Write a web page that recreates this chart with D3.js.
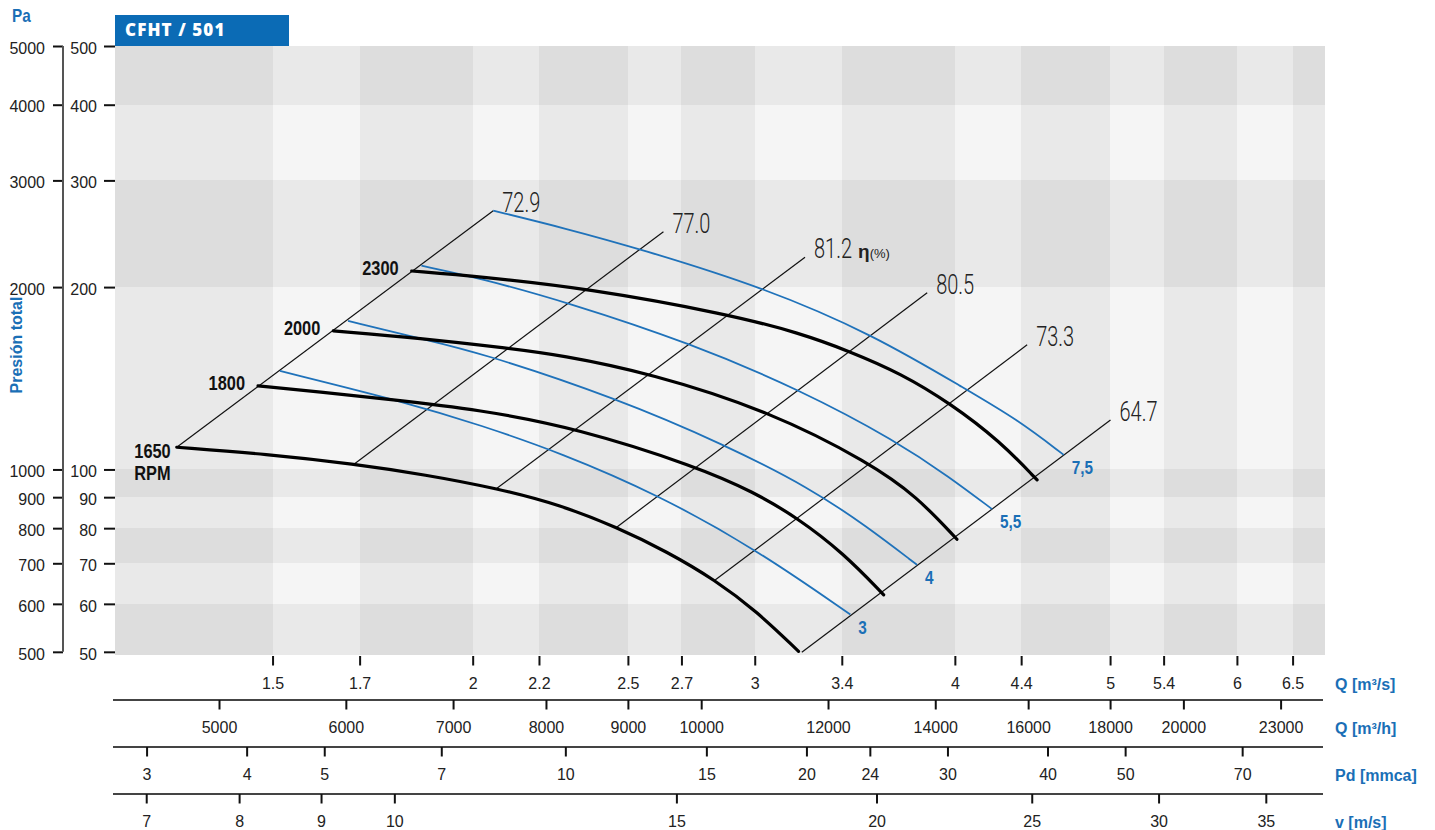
<!DOCTYPE html>
<html>
<head>
<meta charset="utf-8">
<script src="https://cdn.jsdelivr.net/npm/d3@7"></script>
<style>
  body { margin: 0; background: #ffffff; }
  svg text { font-family: "Liberation Sans", Arial, sans-serif; }
</style>
</head>
<body>
<svg id="chart" width="1435" height="830"></svg>
<script>
// ---- Fan model ----
const modelName = "CFHT / 501";

// ---- Axis ticks ----
const pressureTicks = [50, 60, 70, 80, 90, 100, 200, 300, 400, 500];          // mmca (x10 = Pa)
const flowTicks = [1.5, 1.7, 2, 2.2, 2.5, 2.7, 3, 3.4, 4, 4.4, 5, 5.4, 6, 6.5]; // m3/s
const flowHourTicks = [5000, 6000, 7000, 8000, 9000, 10000, 12000, 14000, 16000, 18000, 20000, 23000]; // m3/h
const dynPressureTicks = [3, 4, 5, 7, 10, 15, 20, 24, 30, 40, 50, 70];       // mmca
const velocityTicks = [7, 8, 9, 10, 15, 20, 25, 30, 35];                     // m/s

// ---- Speed curves: [Q m3/s, total pressure mmca] ----
const speeds = [1650, 1800, 2000, 2300];
const curve1650 = [[1.307, 108.8], [1.487, 106.0], [1.687, 102.1], [1.869, 98.0], [2.070, 93.1],
                   [2.268, 87.4], [2.460, 80.3], [2.644, 73.2], [2.834, 65.7], [3.009, 58.3], [3.195, 50.1]];
const curve1800 = [[1.469, 137.4], [1.606, 134.3], [1.767, 130.7], [2.021, 125.5], [2.323, 117.0],
                   [2.760, 101.1], [2.995, 91.8], [3.188, 83.3], [3.409, 72.7], [3.611, 62.1]];
const curve2000 = [[1.637, 169.3], [1.854, 164.7], [2.105, 158.5], [2.268, 154.5], [2.581, 144.2],
                   [3.067, 124.7], [3.542, 102.4], [3.788, 90.2], [4.012, 76.7]];
const curve2300 = [[1.832, 212.6], [2.021, 208.1], [2.357, 199.1], [2.889, 180.4], [3.204, 167.8],
                   [3.442, 156.5], [3.698, 144.2], [3.974, 128.6], [4.270, 111.2], [4.502, 96.1]];
const speedCurves = [curve1650, curve1800, curve2000, curve2300];

// ---- Motor power curves (kW): [Q m3/s, total pressure mmca] ----
const motorPowers = ["3", "4", "5,5", "7,5"];
const power3  = [[1.516, 145.4], [1.827, 128.6], [2.021, 118.4], [2.268, 106.6], [2.612, 90.8],
                 [3.009, 73.7], [3.442, 57.6]];
const power4  = [[1.672, 175.9], [1.854, 164.5], [2.021, 156.0], [2.460, 131.1], [2.875, 109.8],
                 [3.250, 93.1], [3.525, 80.5], [3.788, 69.6]];
const power55 = [[1.858, 216.9], [2.021, 206.9], [2.295, 188.5], [2.734, 161.6], [3.204, 135.3],
                 [3.681, 111.2], [3.974, 96.9], [4.220, 86.0]];
const power75 = [[2.060, 267.4], [2.284, 250.1], [2.544, 231.2], [3.038, 199.8], [3.559, 166.8],
                 [4.070, 135.3], [4.374, 121.0], [4.678, 105.7]];
const powerCurves = [power3, power4, power55, power75];

// ---- Iso-efficiency lines (%): lower and upper ends [Q m3/s, mmca] ----
const efficiencies = ["72.9", "77.0", "81.2", "80.5", "73.3", "64.7"];
const efficiencyLow  = [[1.307, 108.8], [1.687, 102.1], [2.070, 93.0], [2.460, 80.3], [2.834, 65.7], [3.210, 49.9]];
const efficiencyHigh = [[2.060, 267.4], [2.631, 246.9], [3.225, 224.0], [3.844, 195.8], [4.438, 160.6], [5.003, 120.7]];
const efficiencyPeak = "81.2";

// ---- Conversions for the secondary scales ----
const AIR_DENSITY = 1.2;    // kg/m3
const GRAVITY = 9.81;       // mmca -> Pa
const OUTLET_AREA = 0.1787; // m2
const qFromHour = h => h / 3600;
const qFromVelocity = v => v * OUTLET_AREA;
const qFromDynamic = pd => Math.sqrt(2 * pd * GRAVITY / AIR_DENSITY) * OUTLET_AREA;
const velocityFromQ = q => q / OUTLET_AREA;
const dynamicFromQ = q => Math.pow(q / OUTLET_AREA, 2) * AIR_DENSITY / (2 * GRAVITY);

// ---- Layout ----
const BLUE = "#1a6fb6";
const CURVE_BLUE = "#1f72ba";
const plot = { left: 115, right: 1325, top: 46, bottom: 655 };
const rowLines = [700, 747, 794];
const svg = d3.select("#chart");

const x = d3.scaleLog().domain([1.196, 6.81]).range([plot.left, plot.right]);
const y = d3.scaleLog().domain([49.4, 500]).range([plot.bottom, plot.top]);

// ---- Checkerboard background: bands between consecutive ticks ----
const colEdges = [x.domain()[0], ...flowTicks, x.domain()[1]];
const rowEdges = [y.domain()[0], ...pressureTicks.filter(v => v > 50)];
const cells = [];
for (let c = 0; c < colEdges.length - 1; c++) {
  for (let r = 0; r < rowEdges.length - 1; r++) {
    cells.push({ q0: colEdges[c], q1: colEdges[c + 1], p0: rowEdges[r], p1: rowEdges[r + 1],
                 shade: (c % 2 === 0 ? 1 : 0) + (r % 2 === 0 ? 1 : 0) });
  }
}
svg.append("g").attr("shape-rendering", "crispEdges")
  .selectAll("rect").data(cells).join("rect")
  .attr("x", d => x(d.q0)).attr("width", d => x(d.q1) - x(d.q0))
  .attr("y", d => y(d.p1)).attr("height", d => y(d.p0) - y(d.p1))
  .attr("fill", d => { const v = 245 - 12 * d.shade; return d3.rgb(v, v, v); });

// ---- Model badge ----
svg.append("rect").attr("x", plot.left).attr("y", 15).attr("width", 174).attr("height", plot.top - 15)
  .attr("fill", "#0b6bb5");
svg.append("text").attr("x", plot.left + 10).attr("y", 36)
  .style("font-family", "'Open Sans', 'Noto Sans', sans-serif").style("font-weight", 800)
  .style("font-size", "17px").style("letter-spacing", "1.1px").attr("fill", "#ffffff").text(modelName);

// ---- Curves ----
const line = d3.line().x(d => x(d[0])).y(d => y(d[1])).curve(d3.curveBasis);

svg.append("g").selectAll("line").data(efficiencies).join("line")
  .attr("x1", (d, i) => x(efficiencyLow[i][0])).attr("y1", (d, i) => y(efficiencyLow[i][1]))
  .attr("x2", (d, i) => x(efficiencyHigh[i][0])).attr("y2", (d, i) => y(efficiencyHigh[i][1]))
  .attr("stroke", "#111").attr("stroke-width", 1.2);

svg.append("g").selectAll("path").data(powerCurves).join("path")
  .attr("d", line).attr("fill", "none").attr("stroke", CURVE_BLUE).attr("stroke-width", 1.8);

svg.append("g").selectAll("path").data(speedCurves).join("path")
  .attr("d", line).attr("fill", "none").attr("stroke", "#000").attr("stroke-width", 3.2)
  .attr("stroke-linecap", "round");

// ---- Efficiency labels ----
const effLabels = svg.append("g");
efficiencies.forEach((eta, i) => {
  const [q, p] = efficiencyHigh[i];
  const gx = x(q) + 9, gy = y(p) + 1;
  const t = effLabels.append("text")
    .attr("transform", `translate(${gx},${gy}) scale(0.74,1)`)
    .style("font-family", "Roboto, 'Liberation Sans', sans-serif").style("font-weight", 300)
    .style("font-size", "27px").attr("fill", "#222").text(eta);
  if (eta === efficiencyPeak) {
    const w = t.node().getComputedTextLength() * 0.74;
    const u = effLabels.append("text").attr("x", gx + w + 6).attr("y", gy)
      .attr("fill", "#222");
    u.append("tspan").style("font-weight", 700).style("font-size", "19px").text("η");
    u.append("tspan").style("font-size", "13px").text("(%)");
  }
});

// ---- Speed labels ----
const rpmLabels = svg.append("g").style("font-weight", 700).style("font-size", "20px").attr("fill", "#111");
speeds.forEach((s, i) => {
  const [q, p] = speedCurves[i][0];
  if (i === 0) {
    const t = rpmLabels.append("text").attr("text-anchor", "end")
      .attr("transform", `translate(${x(q) - 6},${y(p) + 11}) scale(0.82,1)`).text(s);
    const w = t.node().getComputedTextLength() * 0.82;
    rpmLabels.append("text")
      .attr("transform", `translate(${x(q) - 6 - w},${y(p) + 33}) scale(0.82,1)`).text("RPM");
  } else {
    rpmLabels.append("text").attr("text-anchor", "end")
      .attr("transform", `translate(${x(q) - 13},${y(p) + 4}) scale(0.82,1)`).text(s);
  }
});

// ---- Motor power labels ----
svg.append("g").style("font-weight", 700).style("font-size", "18px").attr("fill", BLUE)
  .selectAll("text").data(motorPowers).join("text")
  .attr("transform", (d, i) => {
    const end = powerCurves[i][powerCurves[i].length - 1];
    return `translate(${x(end[0]) + 8},${y(end[1]) + 19}) scale(0.85,1)`;
  })
  .text(d => d);

// ---- Pressure axes ----
function styleAxis(g) {
  g.select(".domain").remove();
  g.selectAll(".tick line").attr("stroke", "#111").attr("stroke-width", 2);
  g.selectAll(".tick text").attr("fill", "#222").style("font-size", "16px")
    .style("font-family", "'Liberation Sans', Arial, sans-serif");
}
svg.append("g").attr("transform", `translate(${plot.left},0)`)
  .call(d3.axisLeft(y).tickValues(pressureTicks).tickSize(11).tickPadding(7).tickFormat(d3.format("d")))
  .call(styleAxis)
  .call(g => g.selectAll(".tick text").attr("dy", "0.45em"));
svg.append("g").attr("transform", "translate(63,0)")
  .call(d3.axisLeft(y).tickValues(pressureTicks).tickSize(10).tickPadding(8).tickFormat(d => d * 10))
  .call(styleAxis)
  .call(g => g.selectAll(".tick text").attr("dy", "0.45em"));
svg.append("line").attr("x1", 63).attr("x2", 63).attr("y1", y(500)).attr("y2", y(50))
  .attr("stroke", "#555").attr("stroke-width", 2);

svg.append("text").attr("transform", "translate(12,22) scale(0.85,1)")
  .style("font-weight", 700).style("font-size", "18px").attr("fill", BLUE).text("Pa");
svg.append("text").attr("transform", "translate(21.5,345) rotate(-90)").attr("text-anchor", "middle")
  .style("font-weight", 700).style("font-size", "16px").attr("fill", BLUE).text("Presión total");

// ---- Flow, dynamic pressure and velocity scales ----
rowLines.forEach(ly => {
  svg.append("line").attr("x1", 113).attr("x2", 1323).attr("y1", ly).attr("y2", ly)
    .attr("stroke", "#444").attr("stroke-width", 2);
});
const rows = [
  { top: plot.bottom + 1, title: "Q [m³/s]",
    axis: d3.axisBottom(x).tickValues(flowTicks).tickFormat(d => String(d)) },
  { top: rowLines[0], title: "Q [m³/h]",
    axis: d3.axisBottom(x).tickValues(flowHourTicks.map(qFromHour)).tickFormat(d => Math.round(d * 3600)) },
  { top: rowLines[1], title: "Pd [mmca]",
    axis: d3.axisBottom(x).tickValues(dynPressureTicks.map(qFromDynamic)).tickFormat(d => Math.round(dynamicFromQ(d))) },
  { top: rowLines[2], title: "v [m/s]",
    axis: d3.axisBottom(x).tickValues(velocityTicks.map(qFromVelocity)).tickFormat(d => Math.round(velocityFromQ(d))) }
];
rows.forEach(r => {
  svg.append("g").attr("transform", `translate(0,${r.top})`)
    .call(r.axis.tickSize(9.5).tickPadding(12))
    .call(styleAxis);
  svg.append("text").attr("x", 1335).attr("y", r.top + 33.5)
    .style("font-weight", 700).style("font-size", "16px").attr("fill", BLUE).text(r.title);
});
</script>
</body>
</html>
